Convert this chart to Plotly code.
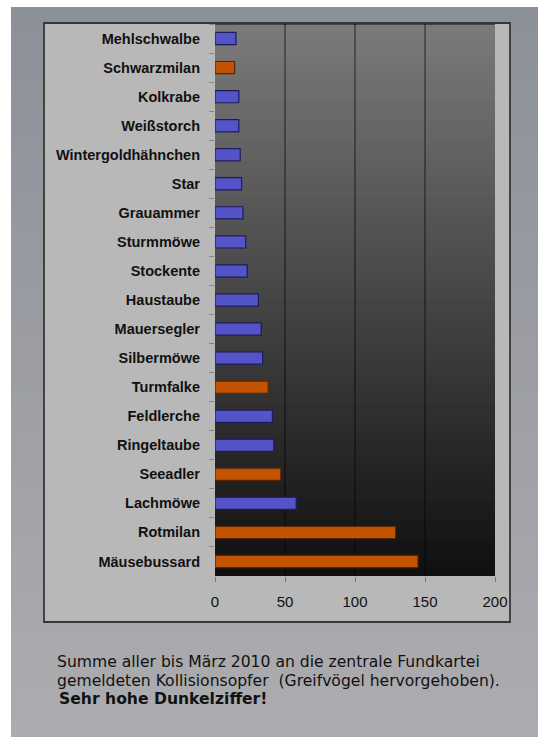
import plotly.graph_objects as go

# ---- data (top to bottom as in the chart) ----
arten = ["Mehlschwalbe", "Schwarzmilan", "Kolkrabe", "Weißstorch", "Wintergoldhähnchen",
         "Star", "Grauammer", "Sturmmöwe", "Stockente", "Haustaube", "Mauersegler",
         "Silbermöwe", "Turmfalke", "Feldlerche", "Ringeltaube", "Seeadler", "Lachmöwe",
         "Rotmilan", "Mäusebussard"]
opfer = [15, 14, 17, 17, 18, 19, 20, 22, 23, 31, 33, 34, 38, 41, 42, 47, 58, 129, 145]
greifvoegel = ["Schwarzmilan", "Turmfalke", "Seeadler", "Rotmilan", "Mäusebussard"]
x_ticks = [0, 50, 100, 150, 200]
caption_lines = ["Summe aller bis März 2010 an die zentrale Fundkartei",
                 "gemeldeten Kollisionsopfer  (Greifvögel hervorgehoben).",
                 "<b>Sehr hohe Dunkelziffer!</b>"]

W, H = 538, 737
L, R, T, B = 215, 495, 24, 576  # plot area in px


def px_x(px):
    return (px - L) / (R - L)


def px_y(py):
    return (B - py) / (B - T)


def lerp(c1, c2, t):
    return "rgb(%d,%d,%d)" % tuple(round(a + (b - a) * t) for a, b in zip(c1, c2))


FONT = "Liberation Sans, Arial, sans-serif"
CAP_FONT = "DejaVu Sans, sans-serif"
fill = ["#c25300" if a in greifvoegel else "#5454c8" for a in arten]
edge = ["#5a2400" if a in greifvoegel else "#1c1c5c" for a in arten]

fig = go.Figure(go.Bar(
    x=opfer, y=arten, orientation="h",
    marker=dict(color=fill, line=dict(color=edge, width=1.2)),
))

shapes = []
# outer gray panel (vertical gradient)
n = 40
top_c, bot_c = (140, 144, 152), (172, 172, 176)
y0p, y1p = 7, H
step = (y1p - y0p) / n
for i in range(n):
    a = y0p + step * i
    b = min(a + step + 3, H + 2)
    shapes.append(dict(type="rect", xref="paper", yref="paper", layer="below",
                       x0=px_x(11), x1=px_x(W + 2), y0=px_y(b), y1=px_y(a),
                       fillcolor=lerp(top_c, bot_c, i / (n - 1)), line=dict(width=0)))
# chart box
shapes.append(dict(type="rect", xref="paper", yref="paper", layer="below",
                   x0=px_x(44), x1=px_x(510), y0=px_y(622), y1=px_y(23),
                   fillcolor="#b8b8b8", line=dict(color="#383838", width=1.8)))
# plot area gradient
n = 80
p_top, p_bot = (122, 122, 122), (16, 16, 16)
for i in range(n):
    a = i / n
    b = (i + 1) / n
    shapes.append(dict(type="rect", xref="paper", yref="paper", layer="below",
                       x0=0, x1=1, y0=max(0, 1 - b - 0.004), y1=1 - a,
                       fillcolor=lerp(p_top, p_bot, i / (n - 1)), line=dict(width=0)))
# plot top border
shapes.append(dict(type="line", xref="paper", yref="paper", layer="below",
                   x0=0, x1=1, y0=1, y1=1, line=dict(color="#333333", width=1.5)))

annotations = []
cap_y = [662, 681, 699]
cap_x = [55, 55, 57]
for txt, cy, cx in zip(caption_lines, cap_y, cap_x):
    annotations.append(dict(text=txt, xref="paper", yref="paper", x=px_x(cx), y=px_y(cy),
                            xanchor="left", yanchor="middle", showarrow=False,
                            font=dict(family=CAP_FONT, size=15.6, color="#111111")))

fig.update_layout(
    width=W, height=H,
    margin=dict(l=L, r=W - R, t=T, b=H - B, pad=0),
    paper_bgcolor="white", plot_bgcolor="rgba(0,0,0,0)",
    showlegend=False, bargap=0.58,
    shapes=shapes, annotations=annotations,
    xaxis=dict(range=[0, 200], tickvals=x_ticks, showgrid=True,
               gridcolor="rgba(0,0,0,0.35)", gridwidth=2, zeroline=False,
               ticks="outside", ticklen=5, tickcolor="#777777",
               ticklabelstandoff=7,
               tickfont=dict(family=FONT, size=15, color="#111111"),
               showline=False, fixedrange=True),
    yaxis=dict(autorange="reversed", type="category", tickson="boundaries",
               ticks="outside", ticklen=5, tickcolor="#888888",
               ticklabelstandoff=14, showgrid=False,
               tickfont=dict(family=FONT, size=14.5, color="#111111", weight="bold"),
               showline=False, fixedrange=True),
)

fig.write_html("out.html", config={"displayModeBar": False},
               post_script="document.body.style.margin='0';")
